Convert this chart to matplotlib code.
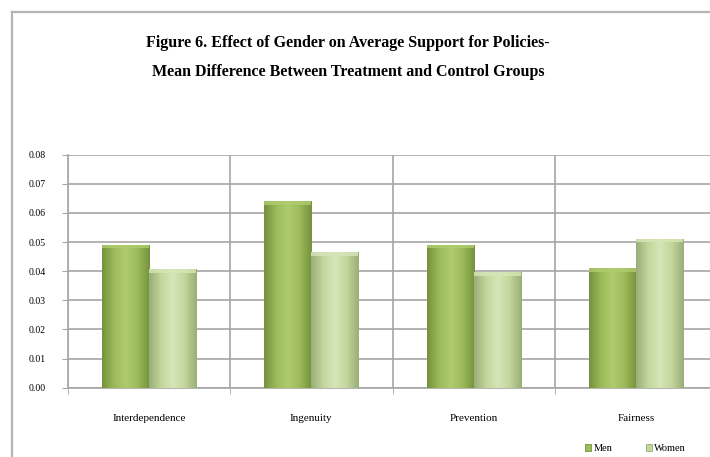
"""
Figure 6: effect of gender on average policy support (treatment minus control).
"""

import numpy as np
import matplotlib
matplotlib.use('Agg')
import matplotlib.pyplot as plt
from matplotlib.lines import Line2D
from matplotlib.colors import LinearSegmentedColormap

# Palette
MEN_MID   = '#9bbb59'
MEN_DARK  = '#76923c'
MEN_LIGHT = '#b0cc6e'
WOM_MID   = '#c3d69b'
WOM_DARK  = '#9aae78'
WOM_LIGHT = '#d7e6b8'
GRID      = '#a6a6a6'
FRAME     = '#b4b4b4'

# Data
categories = ['Interdependence', 'Ingenuity', 'Prevention', 'Fairness']
men   = [0.049, 0.064, 0.049, 0.041]
women = [0.0407, 0.0465, 0.0397, 0.0512]
yticks = [0.00, 0.01, 0.02, 0.03, 0.04, 0.05, 0.06, 0.07, 0.08]

SERIF = ['Liberation Serif', 'DejaVu Serif']


def shade_bars(ax, bars, dark, mid, light):
    # horizontal gradient: dark edges, brighter centre, clipped to each bar
    cmap = LinearSegmentedColormap.from_list('b', [dark, mid, light, mid, dark])
    grad = np.linspace(0, 1, 64).reshape(1, -1)
    for b in bars:
        x0, y0 = b.get_x(), b.get_y()
        w, h = b.get_width(), b.get_height()
        im = ax.imshow(grad, cmap=cmap, aspect='auto', zorder=3,
                       extent=(x0, x0 + w, y0, y0 + h), interpolation='bicubic')
        im.set_clip_path(b)
        # bevel highlight along the top
        ax.fill_between([x0, x0 + w], y0 + h - 0.0012, y0 + h,
                        color=light, alpha=0.8, zorder=4, lw=0)


fig = plt.figure(figsize=(7.10, 4.57), dpi=100, facecolor='white')

# outer chart frame (top and left edges)
fig.add_artist(Line2D([12 / 710, 12 / 710], [0, 1 - 12 / 457],
                      transform=fig.transFigure, color=FRAME, lw=1.6))
fig.add_artist(Line2D([12 / 710, 1], [1 - 12 / 457, 1 - 12 / 457],
                      transform=fig.transFigure, color=FRAME, lw=1.6))

ax = fig.add_axes([68 / 710, 69.3 / 457, 649 / 710, 233 / 457])

x = np.arange(len(categories))
bw = 0.29
bars_m = ax.bar(x - bw / 2, men, bw, color=MEN_MID, edgecolor=MEN_DARK,
                linewidth=0.6, zorder=3, label='Men')
bars_w = ax.bar(x + bw / 2, women, bw, color=WOM_MID, edgecolor=WOM_DARK,
                linewidth=0.6, zorder=3, label='Women')
shade_bars(ax, bars_m, MEN_DARK, MEN_MID, MEN_LIGHT)
shade_bars(ax, bars_w, WOM_DARK, WOM_MID, WOM_LIGHT)

ax.set_xlim(-0.5, len(categories) - 0.5)
ax.set_ylim(0, 0.08)
ax.set_yticks(yticks)
ax.set_yticklabels([f'{v:.2f}' for v in yticks], fontfamily=SERIF, fontsize=7)
ax.set_xticks(x)
ax.set_xticklabels(categories, fontfamily=SERIF, fontsize=8)
ax.tick_params(axis='x', length=0, pad=19)
ax.tick_params(axis='y', length=4, color=GRID, pad=24)

# category separators and horizontal grid
ax.set_xticks(np.arange(len(categories) + 1) - 0.5, minor=True)
ax.tick_params(axis='x', which='minor', length=4, color=GRID)
ax.grid(True, axis='y', color=GRID, lw=1.2, zorder=0)
ax.grid(True, axis='x', which='minor', color=GRID, lw=1.2, zorder=0)
for sp in ['top', 'right']:
    ax.spines[sp].set_visible(False)
ax.spines['left'].set_color(GRID)
ax.spines['left'].set_linewidth(1.2)
ax.spines['bottom'].set_color(GRID)
ax.spines['bottom'].set_linewidth(1.2)

for lbl in ax.get_yticklabels():
    lbl.set_horizontalalignment('left')

fig.text(0.49, 0.905, 'Figure 6. Effect of Gender on Average Support for Policies-',
         ha='center', va='center', fontfamily=SERIF, fontweight='bold', fontsize=11.5)
fig.text(0.49, 0.842, 'Mean Difference Between Treatment and Control Groups',
         ha='center', va='center', fontfamily=SERIF, fontweight='bold', fontsize=11.5)

leg = fig.legend(handles=[bars_m, bars_w], labels=['Men', 'Women'],
                 loc='center', bbox_to_anchor=(0.895, 0.018), ncol=2, frameon=False,
                 prop={'family': SERIF, 'size': 7.5}, handlelength=0.6,
                 handleheight=0.6, handletextpad=0.2, columnspacing=3.2)

fig.savefig('out.png', dpi=100, facecolor='white')
